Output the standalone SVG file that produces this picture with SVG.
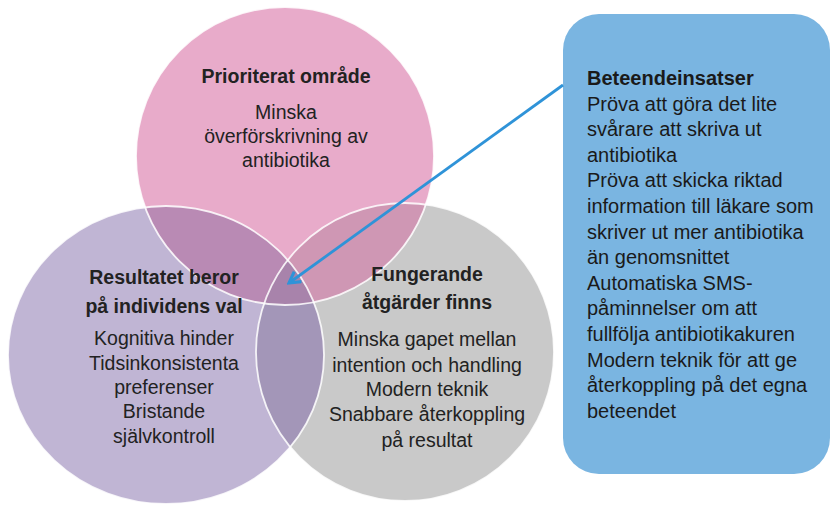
<svg xmlns="http://www.w3.org/2000/svg" width="831" height="505" viewBox="0 0 831 505">
<style>
.t{font-family:"Liberation Sans",Arial,sans-serif;font-size:19.5px;fill:#222;text-anchor:middle}
.b{font-weight:bold}
.bt{font-family:"Liberation Sans",Arial,sans-serif;font-size:20px;fill:#1a1a1a}
.edge{fill:none;stroke:#fff;stroke-width:1.8;stroke-opacity:0.85}
</style>
<defs>
<clipPath id="cPink"><circle cx="285" cy="156" r="149"/></clipPath>
<clipPath id="cPurple"><ellipse cx="166" cy="355" rx="158" ry="149"/></clipPath>
<clipPath id="cGray"><circle cx="405" cy="352" r="149"/></clipPath>
<marker id="arr" viewBox="0 0 12 12" refX="10" refY="6" markerWidth="5.5" markerHeight="5.5" orient="auto" markerUnits="strokeWidth">
<path d="M1.5,1.2 L10,6 L1.5,10.8" fill="none" stroke="#2f93d8" stroke-width="2.4" stroke-linejoin="miter"/>
</marker>
</defs>
<rect width="831" height="505" fill="#fff"/>

<g id="node-purple">
<ellipse cx="166" cy="355" rx="158" ry="149" fill="#c0b5d4"/>
</g>
<g id="node-gray">
<circle cx="405" cy="352" r="149" fill="#c9c9c9"/>
</g>
<g id="node-pink">
<circle cx="285" cy="156" r="149" fill="#e8abca"/>
</g>
<g id="overlaps">
<g clip-path="url(#cPink)"><ellipse cx="166" cy="355" rx="158" ry="149" fill="#b98ab4"/><circle cx="405" cy="352" r="149" fill="#cf97b4"/></g>
<g clip-path="url(#cPurple)"><circle cx="405" cy="352" r="149" fill="#a396b8"/></g>
<g clip-path="url(#cPurple)"><g clip-path="url(#cPink)"><circle cx="405" cy="352" r="149" fill="#a883ab"/></g></g>
<ellipse class="edge" cx="166" cy="355" rx="158" ry="149"/>
<circle class="edge" cx="405" cy="352" r="149"/>
<circle class="edge" cx="285" cy="156" r="149" stroke-opacity="0.35"/>
</g>

<g id="text-pink">
<text class="t b" x="286" y="83">Prioriterat område</text>
<text class="t" x="286" y="119">Minska</text>
<text class="t" x="286" y="143">överförskrivning av</text>
<text class="t" x="286" y="167">antibiotika</text>
</g>
<g id="text-purple">
<text class="t b" x="164" y="284">Resultatet beror</text>
<text class="t b" x="164" y="313">på individens val</text>
<text class="t" x="164" y="345">Kognitiva hinder</text>
<text class="t" x="164" y="370">Tidsinkonsistenta</text>
<text class="t" x="164" y="394">preferenser</text>
<text class="t" x="164" y="418">Bristande</text>
<text class="t" x="164" y="443">självkontroll</text>
</g>
<g id="text-gray">
<text class="t b" x="427" y="281">Fungerande</text>
<text class="t b" x="427" y="309">åtgärder finns</text>
<text class="t" x="427" y="346">Minska gapet mellan</text>
<text class="t" x="427" y="372">intention och handling</text>
<text class="t" x="427" y="396">Modern teknik</text>
<text class="t" x="427" y="421">Snabbare återkoppling</text>
<text class="t" x="427" y="447">på resultat</text>
</g>

<g id="node-blue">
<rect x="563" y="14" width="267" height="460" rx="36" ry="36" fill="#7ab5e1"/>
<text class="bt" x="587" y="85"><tspan font-weight="bold">Beteendeinsatser</tspan>
<tspan x="587" dy="25.6">Pröva att göra det lite</tspan>
<tspan x="587" dy="25.6">svårare att skriva ut</tspan>
<tspan x="587" dy="25.6">antibiotika</tspan>
<tspan x="587" dy="25.6">Pröva att skicka riktad</tspan>
<tspan x="587" dy="25.6">information till läkare som</tspan>
<tspan x="587" dy="25.6">skriver ut mer antibiotika</tspan>
<tspan x="587" dy="25.6">än genomsnittet</tspan>
<tspan x="587" dy="25.6">Automatiska SMS-</tspan>
<tspan x="587" dy="25.6">påminnelser om att</tspan>
<tspan x="587" dy="25.6">fullfölja antibiotikakuren</tspan>
<tspan x="587" dy="25.6">Modern teknik för att ge</tspan>
<tspan x="587" dy="25.6">återkoppling på det egna</tspan>
<tspan x="587" dy="25.6">beteendet</tspan></text>
</g>

<g id="connectors">
<line x1="563" y1="85" x2="289" y2="283" stroke="#2f93d8" stroke-width="2.8" marker-end="url(#arr)"/>
</g>
</svg>
